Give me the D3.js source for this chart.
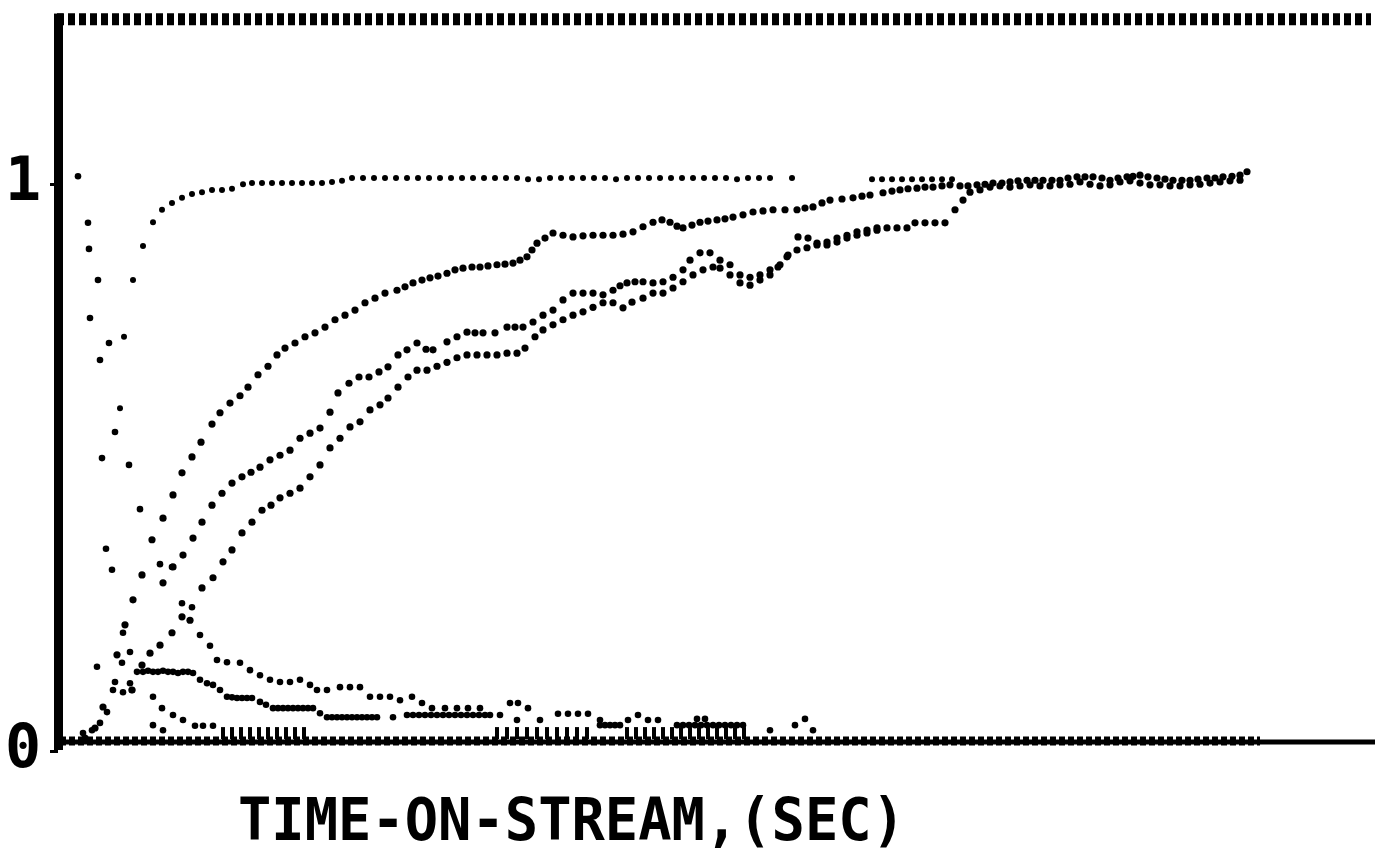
<!DOCTYPE html>
<html>
<head>
<meta charset="utf-8">
<script src="https://cdn.jsdelivr.net/npm/d3@7"></script>
<style>
  body { margin: 0; background: #fff; }
  svg { display: block; }
</style>
</head>
<body>
<div id="div_chart"></div>
<script>
// [time, fraction] pairs
const seriesA = [
  [6.0,.594],[6.4,.720],[7.3,.820],[8.3,.880],[9.3,.922],[10.2,.944],[11.2,.956],[12.2,.965],
  [13.2,.972],[14.2,.975],[15.2,.979],[16.2,.979],[17.2,.981],[18.3,.989],[19.2,.991],
  [20.2,.991],[21.2,.991],[22.2,.991],[23.2,.991],[24.2,.991],[25.2,.991],[26.2,.991],[27.2,.993],[28.2,.995],
  [29.2,1],[30.3,1],[31.4,1],[32.5,1],[33.6,1],[34.7,1],[35.8,1],[36.9,1],[38.0,1],[39.1,1],
  [40.2,1],[41.3,1],[42.4,1],[43.5,1],[44.6,1],[45.7,1],[46.8,.998],[47.9,.998],[49.0,1],[50.1,1],
  [51.2,1],[52.3,1],[53.4,1],[54.5,1],[55.6,.998],[56.7,1],[57.8,1],[58.9,1],[60.0,1],[61.1,1],
  [62.2,1],[63.3,1],[64.4,1],[65.5,1],[66.6,1],[67.7,.998],[68.8,1],[69.9,1],[71.0,1],[73.2,1],
  [81.2,.998],[82.2,.998],[83.2,.998],[84.2,.998],[85.2,.998],[86.2,.998],[87.2,.998],[88.2,.998],[89.2,.998]
];

const seriesB1 = [
  [1.8,1.003],[2.8,.921],[3.0,.753],[4.0,.679],[4.2,.506],[4.6,.346],[5.2,.309],[6.3,.198],[7.0,.164],
  [7.7,.129],[8.3,.129],[8.8,.131],[9.3,.129],[9.8,.129],[10.3,.131],[10.8,.129],[11.3,.129],[11.8,.127],
  [12.3,.129],[12.8,.129],[13.3,.127],[14.0,.115],[14.7,.109],[15.3,.106],[16.0,.097],
  [16.7,.085],[17.2,.084],[17.7,.083],[18.2,.083],[18.7,.083],[19.2,.083],[20.0,.076],[20.6,.071],
  [21.3,.065],[21.8,.065],[22.3,.065],[22.8,.065],[23.3,.065],[23.8,.065],[24.3,.065],[24.8,.065],[25.3,.065],
  [26.0,.056],[26.7,.049],[27.2,.049],[27.7,.049],[28.2,.049],[28.7,.049],[29.2,.049],[29.7,.049],
  [30.2,.049],[30.7,.049],[31.2,.049],[31.7,.049],[33.3,.049],
  [34.7,.053],[35.3,.053],[35.9,.053],[36.5,.053],[37.1,.053],[37.7,.053],[38.3,.053],[38.9,.053],
  [39.5,.053],[40.1,.053],[40.7,.053],[41.3,.053],[41.9,.053],[42.5,.053],[43.0,.053],[44.0,.053],
  [45.7,.044],[48.0,.044],[54.0,.035],[54.5,.035],[55.0,.035],[55.5,.035],[56.0,.035],
  [61.7,.035],[62.3,.035],[62.9,.035],[63.5,.035],[64.1,.035],[64.7,.035],[65.3,.035],[65.9,.035],
  [66.5,.035],[67.1,.035],[67.7,.035],[68.3,.035],[71.0,.026],[73.5,.035],[75.3,.026]
];

const seriesB2 = [
  [2.9,.875],[3.8,.820],[4.9,.709],[5.5,.552],[6.9,.494],[8.0,.416],[10.0,.319],[11.2,.314],
  [12.2,.250],[13.2,.243],[14.0,.194],[15.0,.175],[15.7,.150],[16.7,.146],[18.0,.145],[19.0,.132],
  [20.0,.123],[21.0,.115],[22.0,.111],[23.0,.111],[24.0,.115],[25.0,.106],[25.7,.097],[26.7,.097],
  [28.0,.102],[29.0,.102],[30.0,.102],[31.0,.085],[32.0,.085],[33.0,.085],[34.0,.079],[35.2,.085],
  [36.2,.074],[37.2,.065],[38.5,.065],[39.7,.065],[40.8,.065],[42.0,.065],[45.0,.074],[45.8,.074],
  [46.8,.065],[49.8,.055],[50.8,.055],[51.8,.055],[52.8,.055],[54.0,.044],[56.8,.044],[57.8,.053],
  [58.8,.044],[59.8,.044],[63.7,.046],[64.5,.046],[74.5,.046]
];

const seriesC = [
  [2.5,.012],[3.5,.030],[4.3,.067],[5.7,.159],[6.5,.212],[7.3,.256],[8.2,.300],[9.2,.362],[10.3,.400],
  [11.3,.441],[12.2,.480],[13.2,.508],[14.1,.534],[15.2,.566],[16.0,.586],[17.0,.603],[18.0,.616],
  [18.8,.631],[19.8,.653],[20.8,.668],[21.7,.688],[22.5,.700],[23.5,.709],[24.5,.720],[25.5,.727],
  [26.5,.737],[27.5,.750],[28.5,.758],[29.5,.767],[30.5,.780],[31.5,.788],[32.5,.797],[33.7,.802],
  [34.5,.808],[35.3,.815],[36.2,.820],[37.0,.824],[37.8,.827],[38.7,.832],[39.5,.838],[40.3,.841],
  [41.2,.843],[42.0,.843],[42.8,.845],[43.7,.847],[44.5,.848],[45.3,.850],[46.0,.855],[46.7,.861],
  [47.2,.873],[47.7,.885],[48.5,.894],[49.3,.903],[50.3,.899],[51.3,.896],[52.3,.898],[53.3,.899],
  [54.3,.899],[55.3,.899],[56.3,.901],[57.3,.905],[58.3,.914],[59.3,.922],[60.2,.926],[61.0,.922],
  [61.7,.915],[62.3,.912],[63.2,.917],[64.0,.922],[64.8,.924],[65.7,.926],[66.5,.928],[67.3,.931],
  [68.3,.935],[69.3,.940],[70.3,.942],[71.3,.944],[72.5,.944],[73.7,.944],[74.5,.947],[75.3,.949],
  [76.2,.956],[77.0,.961],[78.2,.963],[79.3,.965],[80.2,.968],[81.0,.970],[82.3,.974],[83.2,.977],
  [84.0,.979],[84.8,.981],[85.7,.982],[86.5,.984],[87.3,.984],[88.2,.986],[89.0,.988],[90.0,.986],
  [90.8,.986],[91.7,.988],[92.5,.989],[93.3,.991],[94.2,.991],[95.0,.993],[95.8,.995],[96.7,.996],
  [97.5,.996],[98.3,.996],[99.2,.996],[100.0,.996],[100.8,1],[101.7,1.002],[102.5,1.002],[103.3,1.002],
  [104.2,1],[105.0,.996],[105.8,1],[106.7,1.002],[107.3,1.003],[108.0,1.005],[108.8,1.002],[109.7,1],
  [110.5,.998],[111.3,.996],[112.2,.996],[113.0,.996],[113.8,.998],[114.7,1],[115.5,1],[116.3,1.002],
  [117.2,1.003],[118.0,1.005],[118.7,1.011]
];

const seriesD1 = [
  [9.0,.162],[10.3,.286],[11.3,.314],[12.3,.335],[13.3,.365],[14.2,.393],[15.2,.423],[16.2,.444],
  [17.2,.462],[18.2,.473],[19.1,.481],[20.0,.490],[21.0,.503],[22.0,.511],[23.0,.520],[24.0,.541],
  [25.0,.550],[26.0,.559],[27.0,.587],[27.8,.621],[28.9,.638],[29.9,.649],[30.9,.649],[31.9,.658],
  [32.8,.667],[33.8,.688],[34.7,.697],[35.7,.709],[36.6,.698],[37.3,.697],[38.7,.711],[39.7,.720],
  [40.7,.728],[41.5,.727],[42.3,.727],[43.5,.727],[44.7,.737],[45.5,.737],[46.3,.737],[47.3,.746],
  [48.3,.758],[49.3,.767],[50.3,.785],[51.3,.797],[52.3,.797],[53.3,.797],[54.3,.794],[55.3,.802],
  [56.0,.810],[56.7,.815],[57.5,.817],[58.3,.817],[59.3,.815],[60.3,.817],[61.3,.825],[62.3,.838],
  [63.0,.855],[64.0,.868],[65.0,.868],[66.0,.855],[67.0,.847],[68.0,.829],[69.0,.825],[70.0,.829],
  [71.0,.838],[72.0,.847],[72.8,.864],[73.8,.896],[74.8,.894],[75.7,.885],[76.7,.887],[77.7,.894],
  [78.7,.899],[79.7,.905],[80.7,.908],[81.7,.912],[82.7,.912],[83.7,.912],[84.7,.912],[85.5,.921],
  [86.5,.921],[87.5,.921],[88.5,.921],[89.5,.944],[90.3,.961],[91.0,.975],[92.0,.979],[93.0,.984],
  [94.0,.986],[95.0,.984],[96.0,.986],[97.0,.988],[98.0,.986],[99.0,.986],[100.0,.988],[101.0,.989],
  [102.0,.993],[103.0,.989],[104.0,.986],[105.0,.988],[106.0,.993],[107.0,.995],[108.0,.991],
  [109.0,.988],[110.0,.988],[111.0,.986],[112.0,.986],[113.0,.988],[114.0,.989],[115.0,.991],
  [116.0,.993],[117.0,.995],[118.0,.996]
];

const seriesD2 = [
  [7.2,.097],[8.2,.141],[10.0,.176],[11.2,.198],[12.2,.226],[13.0,.220],[14.2,.277],[15.3,.295],
  [16.3,.323],[17.2,.344],[18.2,.374],[19.2,.393],[20.2,.414],[21.1,.423],[22.0,.436],[23.0,.444],
  [24.0,.453],[25.0,.473],[26.0,.494],[27.0,.524],[28.0,.541],[29.0,.561],[30.0,.570],[31.0,.591],
  [32.0,.600],[32.8,.612],[33.8,.631],[34.8,.649],[35.7,.661],[36.7,.661],[37.7,.668],[38.7,.675],
  [39.7,.683],[40.7,.688],[41.7,.688],[42.7,.688],[43.7,.688],[44.7,.691],[45.7,.691],[46.5,.700],
  [47.5,.720],[48.3,.732],[49.3,.741],[50.3,.750],[51.3,.758],[52.3,.764],[53.3,.772],[54.3,.780],
  [55.3,.780],[56.3,.771],[57.2,.781],[58.3,.788],[59.3,.797],[60.3,.797],[61.3,.806],[62.3,.817],
  [63.3,.829],[64.3,.838],[65.3,.843],[66.0,.841],[67.0,.829],[68.0,.815],[69.0,.811],[70.0,.820],
  [71.0,.829],[71.8,.843],[72.7,.861],[73.7,.873],[74.7,.877],[75.7,.882],[76.7,.882],[77.7,.887],
  [78.7,.894],[79.7,.899],[80.7,.903],[81.7,.908]
];

const seriesE = [
  [2.3,.021],[3.2,.026],[4.0,.039],[4.7,.058],[5.3,.097],[5.5,.111],[6.2,.145],[7.0,.109],[3.7,.138],
  [6.3,.093],[7.2,.097],[9.3,.085],[10.2,.065],[11.3,.053],[12.3,.044],[13.5,.034],[14.3,.034],
  [15.3,.034],[9.3,.035],[10.3,.026]
];

// short vertical tail marks just above the baseline
const tailT = [16.3,17.2,18.1,19.0,19.9,20.8,21.7,22.6,23.5,24.4,
  43.7,44.7,45.7,46.7,47.7,48.7,49.7,50.7,51.7,52.7,
  56.7,57.6,58.5,59.4,60.3,61.2,62.1,63.0,63.9,64.8,65.7,66.6,67.5,68.4];
const tailV = 0.021;

const yTicks = [0, 1];
const yTickLabels = ["0", "1"];
const xTitle = "TIME-ON-STREAM,(SEC)";

const W = 1375, H = 855;
const svg = d3.select("#div_chart")
  .append("svg")
    .attr("width", W)
    .attr("height", H)
    .style("background", "#fff");

const x = d3.scaleLinear().domain([0, 131.5]).range([60, 1375]);
const y = d3.scaleLinear().domain([0, 1]).range([745, 178]);

// top frame, printed as a row of dots
svg.append("line")
  .attr("x1", 57).attr("x2", 1371)
  .attr("y1", y(1.28)).attr("y2", y(1.28))
  .attr("stroke", "#000").attr("stroke-width", 12)
  .attr("stroke-dasharray", "7,4");

// baseline
svg.append("line")
  .attr("x1", 60).attr("x2", 1375)
  .attr("y1", y(0) - 3).attr("y2", y(0) - 3)
  .attr("stroke", "#000").attr("stroke-width", 5);
svg.append("line")
  .attr("x1", 60).attr("x2", 1260)
  .attr("y1", y(0) - 4).attr("y2", y(0) - 4)
  .attr("stroke", "#000").attr("stroke-width", 9)
  .attr("stroke-dasharray", "6,3");

// left axis
const yAxis = svg.append("g")
  .attr("transform", "translate(58,0)")
  .call(d3.axisLeft(y).tickValues(yTicks).tickSize(8).tickFormat((d, i) => yTickLabels[i]));
yAxis.select(".domain").remove();
yAxis.selectAll(".tick line").attr("stroke", "#000").attr("stroke-width", 3)
  .attr("transform", "translate(0,6)");
yAxis.selectAll(".tick text")
  .attr("x", -35)
  .attr("dy", "0.36em")
  .attr("text-anchor", "middle")
  .style("font-family", "'DejaVu Sans Mono', monospace")
  .style("font-weight", "bold")
  .style("font-size", "60px")
  .attr("fill", "#000");
svg.append("rect")
  .attr("x", 54).attr("y", y(1.29))
  .attr("width", 9).attr("height", y(0) + 5 - y(1.29))
  .attr("fill", "#000");

function dots(data, r) {
  svg.append("g")
    .selectAll("circle")
    .data(data)
    .join("circle")
      .attr("cx", d => x(d[0]))
      .attr("cy", d => y(d[1]))
      .attr("r", r)
      .attr("fill", "#000");
}

dots(seriesA, 3);
dots(seriesB1, 3.3);
dots(seriesB2, 3.3);
dots(seriesC, 3.6);
dots(seriesD1, 3.6);
dots(seriesD2, 3.6);
dots(seriesE, 3.3);

svg.append("g")
  .selectAll("rect")
  .data(tailT)
  .join("rect")
    .attr("x", d => x(d) - 2)
    .attr("y", y(tailV) - 6)
    .attr("width", 4)
    .attr("height", 12)
    .attr("fill", "#000");

// x title
svg.append("text")
  .attr("x", 238)
  .attr("y", 840)
  .attr("textLength", 667)
  .attr("lengthAdjust", "spacingAndGlyphs")
  .style("font-family", "'DejaVu Sans Mono', monospace")
  .style("font-weight", "bold")
  .style("font-size", "58px")
  .attr("fill", "#000")
  .text(xTitle);
</script>
</body>
</html>
